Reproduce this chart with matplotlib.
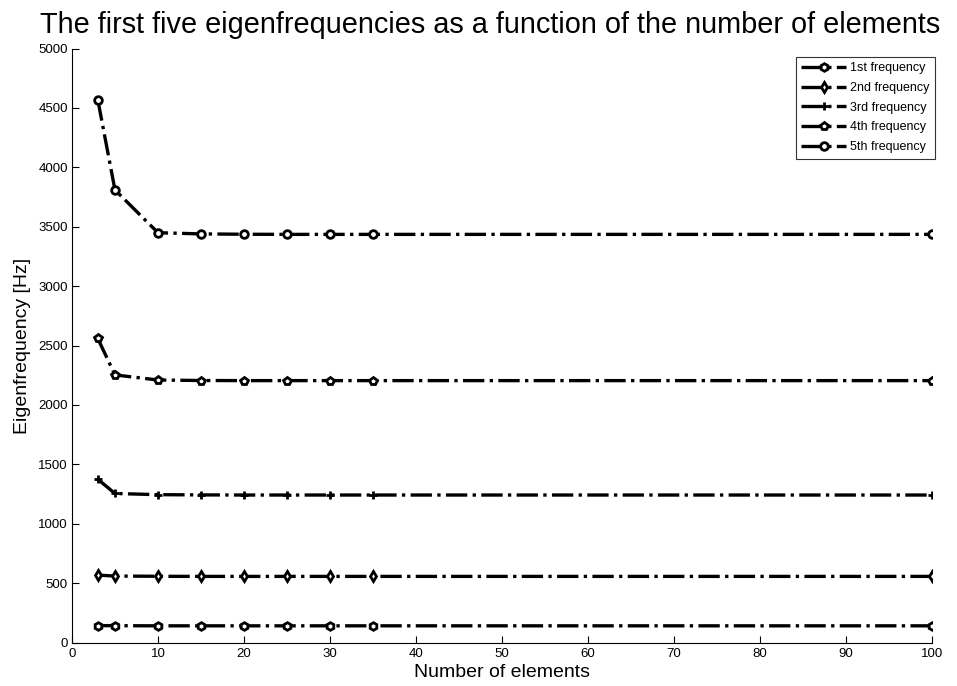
import numpy as np
import matplotlib
matplotlib.use("Agg")
import matplotlib.pyplot as plt

plt.rcParams["font.family"] = ["Liberation Sans", "DejaVu Sans"]

# number of elements used in each run
n_elements = [3, 5, 10, 15, 20, 25, 30, 35, 100]

# eigenfrequencies [Hz] for each mode
freq_1 = [143, 142, 141, 141, 141, 141, 141, 141, 141]
freq_2 = [568, 560, 558, 557, 557, 557, 557, 557, 557]
freq_3 = [1375, 1255, 1245, 1243, 1242, 1242, 1242, 1242, 1242]
freq_4 = [2560, 2253, 2210, 2206, 2205, 2205, 2205, 2205, 2205]
freq_5 = [4570, 3810, 3450, 3440, 3437, 3436, 3436, 3436, 3436]

labels = ["1st frequency", "2nd frequency", "3rd frequency",
          "4th frequency", "5th frequency"]
markers = ["h", "d", "+", "p", "o"]

fig = plt.figure(figsize=(9.57, 6.86), dpi=100)
ax = fig.add_axes([0.0752, 0.0633, 0.8987, 0.8659])

for y, m, lab in zip([freq_1, freq_2, freq_3, freq_4, freq_5], markers, labels):
    ax.plot(n_elements, y, linestyle="-.", color="black", linewidth=2.4,
            marker=m, markersize=5.5, markerfacecolor="white",
            markeredgecolor="black", markeredgewidth=2.0, label=lab)

ax.set_xlim(0, 100)
ax.set_ylim(0, 5000)
ax.set_xticks(np.arange(0, 101, 10))
ax.set_yticks(np.arange(0, 5001, 500))
ax.tick_params(direction="in", length=5, labelsize=9.5)
ax.tick_params(axis="y", pad=3)
ax.tick_params(axis="x", pad=4)
ax.spines["top"].set_visible(False)
ax.spines["right"].set_visible(False)

ax.set_xlabel("Number of elements", fontsize=14, labelpad=3)
ax.set_ylabel("Eigenfrequency [Hz]", fontsize=14, labelpad=5)
ax.set_title("The first five eigenfrequencies as a function of the number of elements",
             fontsize=20.8, pad=11, x=0.486)

leg = ax.legend(loc="upper right", fontsize=9, frameon=True, fancybox=False,
                edgecolor="black", handlelength=3.6, handletextpad=0.3,
                borderpad=0.45, labelspacing=0.62, borderaxespad=0,
                bbox_to_anchor=(1.0035, 0.9865))
leg.get_frame().set_linewidth(0.8)

fig.savefig("out.png", dpi=100)
